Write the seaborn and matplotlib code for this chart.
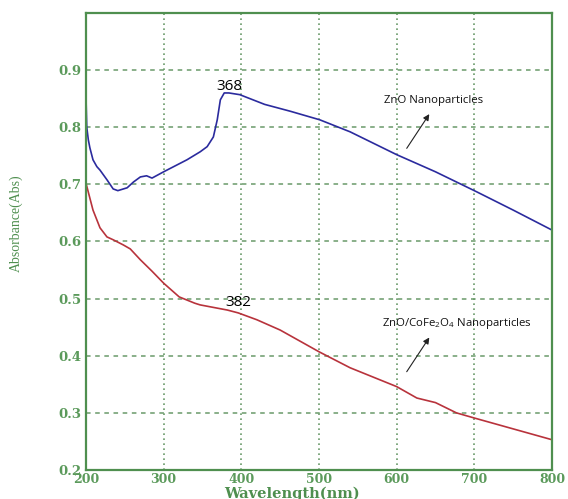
import matplotlib
matplotlib.use("Agg")
import matplotlib.pyplot as plt
import seaborn as sns
import pandas as pd

# UV-Vis absorbance spectra (wavelength in nm)
zno_wavelength = [200, 201, 203, 205, 209, 214, 218, 227, 235, 241, 253, 261, 270,
                  278, 285, 300, 330, 347, 356, 364, 369, 373, 378, 384, 398,
                  430, 463, 501, 540, 600, 650, 703, 750, 800]
zno_absorbance = [0.853, 0.800, 0.778, 0.764, 0.743, 0.731, 0.725, 0.708, 0.692, 0.689,
                  0.694, 0.704, 0.713, 0.715, 0.711, 0.722, 0.743, 0.757, 0.766, 0.783,
                  0.813, 0.848, 0.860, 0.860, 0.857, 0.840, 0.828, 0.813, 0.792,
                  0.752, 0.722, 0.687, 0.655, 0.620]

hybrid_wavelength = [200, 209, 218, 227, 235, 248, 257, 270, 285, 300, 320, 340, 347,
                     382, 396, 420, 450, 500, 540, 600, 626, 650, 677, 700, 750, 800]
hybrid_absorbance = [0.702, 0.655, 0.624, 0.608, 0.603, 0.594, 0.587, 0.568, 0.548,
                     0.527, 0.503, 0.492, 0.489, 0.480, 0.475, 0.463, 0.445, 0.407,
                     0.379, 0.346, 0.326, 0.318, 0.300, 0.291, 0.272, 0.253]

peak_labels = ["368", "382"]
series_names = ["ZnO Nanoparticles", "ZnO/CoFe$_2$O$_4$ Nanoparticles"]
x_ticks = [200, 300, 400, 500, 600, 700, 800]
y_ticks = [0.2, 0.3, 0.4, 0.5, 0.6, 0.7, 0.8, 0.9]

df = pd.concat([
    pd.DataFrame({"Wavelength": zno_wavelength, "Absorbance": zno_absorbance,
                  "Sample": series_names[0]}),
    pd.DataFrame({"Wavelength": hybrid_wavelength, "Absorbance": hybrid_absorbance,
                  "Sample": series_names[1]}),
])

sns.set_style("white")
plt.rcParams["font.family"] = ["DejaVu Sans"]
plt.rcParams["mathtext.fontset"] = "custom"
plt.rcParams["mathtext.rm"] = "Open Sans"
plt.rcParams["mathtext.it"] = "Open Sans:italic"
plt.rcParams["mathtext.bf"] = "Open Sans:bold"

GREEN = "#4f8f4f"
GRID = "#6a9a6a"

fig = plt.figure(figsize=(5.68, 4.99), dpi=100)
ax = fig.add_axes([0.1514, 0.0581, 0.8204, 0.9159])

sns.lineplot(data=df, x="Wavelength", y="Absorbance", hue="Sample",
             palette=["#2b2b9e", "#b8333c"], linewidth=1.2, legend=False,
             sort=False, estimator=None, ax=ax)

ax.set_xlim(200, 800)
ax.set_ylim(0.2, 1.0)
ax.set_xticks(x_ticks)
ax.set_yticks(y_ticks)
ax.set_xticklabels([str(t) for t in x_ticks])
ax.set_yticklabels([f"{t:.1f}" for t in y_ticks])

# dashed horizontal / dotted vertical grid
for y in y_ticks[1:]:
    ax.axhline(y, color=GRID, linestyle=(0, (3, 3)), linewidth=1.1, zorder=0)
for x in x_ticks[1:-1]:
    ax.axvline(x, color=GRID, linestyle=(0, (1, 2)), linewidth=1.2, zorder=0)

for side in ["left", "right", "top", "bottom"]:
    ax.spines[side].set_visible(True)
    ax.spines[side].set_color(GREEN)
    ax.spines[side].set_linewidth(1.6)

ax.tick_params(axis="x", length=0, pad=2.5, colors=GREEN, labelsize=9)
ax.tick_params(axis="y", length=0, pad=3, colors=GREEN, labelsize=9.5)
for lab in ax.get_xticklabels() + ax.get_yticklabels():
    lab.set_fontfamily("DejaVu Serif")
    lab.set_fontweight("bold")
    lab.set_color("#5b9a5b")

ax.set_xlabel("Wavelength(nm)", fontfamily="DejaVu Serif", fontweight="bold",
              fontsize=10.5, color=GREEN)
ax.xaxis.set_label_coords(0.442, -0.037)
ax.set_ylabel("Absorbance(Abs)", fontfamily="Liberation Serif", fontsize=10,
              color=GREEN)
ax.yaxis.set_label_coords(-0.135, 0.54)

# peak labels
ax.text(385, 0.872, peak_labels[0], ha="center", va="center", fontsize=11,
        fontfamily="Open Sans", color="black")
ax.text(396, 0.494, peak_labels[1], ha="center", va="center", fontsize=11,
        fontfamily="Open Sans", color="black")

# series annotations with arrows
arrow = dict(arrowstyle="-|>", color="#222222", lw=0.8, mutation_scale=9)
ax.annotate("", xy=(644, 0.827), xytext=(611, 0.759), arrowprops=arrow)
ax.text(647, 0.846, series_names[0], ha="center", va="center", fontsize=8.2,
        fontfamily="Open Sans", color="#111111")
ax.annotate("", xy=(644, 0.436), xytext=(611, 0.368), arrowprops=arrow)
ax.text(678, 0.457, series_names[1], ha="center", va="center", fontsize=8.2,
        fontfamily="Open Sans", color="#111111")

fig.savefig("out.png", dpi=100)
